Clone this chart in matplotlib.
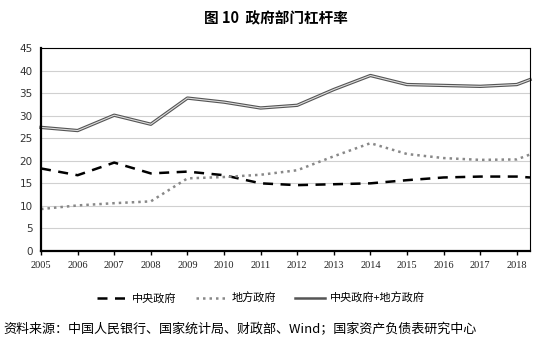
import matplotlib
matplotlib.use("Agg")
import matplotlib.pyplot as plt
from matplotlib.lines import Line2D

plt.rcParams['font.family'] = ['Noto Sans CJK SC', 'DejaVu Sans']

title = "图 10  政府部门杠杆率"
source = "资料来源：中国人民银行、国家统计局、财政部、Wind；国家资产负债表研究中心"
tick_years = [2005, 2006, 2007, 2008, 2009, 2010, 2011, 2012, 2013, 2014, 2015, 2016, 2017, 2018]
# time points of the series (last one is the latest observation after 2018)
x_time = [2005, 2006, 2007, 2008, 2009, 2010, 2011, 2012, 2013, 2014, 2015, 2016, 2017, 2018, 2018.36]
central = [18.3, 16.8, 19.6, 17.2, 17.6, 16.8, 15.0, 14.6, 14.8, 15.0, 15.7, 16.3, 16.5, 16.5, 16.3]
local = [9.3, 10.1, 10.6, 11.0, 16.1, 16.4, 16.9, 17.9, 21.0, 23.9, 21.5, 20.6, 20.2, 20.3, 21.4]
total = [27.4, 26.7, 30.1, 28.1, 33.9, 33.0, 31.7, 32.3, 35.8, 38.9, 36.9, 36.7, 36.5, 36.9, 38.0]
labels = ["中央政府", "地方政府", "中央政府+地方政府"]

fig = plt.figure(figsize=(5.51, 3.51), dpi=100)
ax = fig.add_axes([41/551, 1-251/351, (530-41)/551, (251-48)/351])

ax.set_ylim(0, 45)
ax.set_xlim(2005, 2018.36)
ax.set_yticks(range(0, 46, 5))
ax.set_xticks(tick_years)
ax.set_xticklabels([str(y) for y in tick_years], family='Liberation Serif', fontsize=7.5, color='#222222')
for lab in ax.get_yticklabels():
    lab.set_fontsize(7.5)
    lab.set_color('#333333')
    lab.set_family('DejaVu Sans')
ax.grid(axis='y', color='#d0d0d0', linewidth=0.8)
ax.set_axisbelow(True)
ax.tick_params(axis='y', length=0, pad=6)
ax.tick_params(axis='x', direction='out', length=3, width=1, pad=4)

for s in ['top', 'right']:
    ax.spines[s].set_linewidth(0.8)
for s in ['left', 'bottom']:
    ax.spines[s].set_linewidth(1.6)

l1, = ax.plot(x_time, central, color='black', linestyle=(0, (4, 3)), linewidth=1.8, clip_on=False)
l2, = ax.plot(x_time, local, color='#888888', linestyle=(0, (1, 1.6)), linewidth=1.8, clip_on=False)
l3, = ax.plot(x_time, total, color='#555555', linewidth=2.4, clip_on=False)
l3w, = ax.plot(x_time, total, color='#dddddd', linewidth=0.8, clip_on=False)

h3 = Line2D([], [], color='#555555', linewidth=1.8)
fig.legend([l1, l2, h3], labels, loc='center', bbox_to_anchor=(261/551, 1-298/351),
           ncol=3, frameon=False, fontsize=8, handlelength=2.7, handletextpad=0.5,
           columnspacing=1.7)

fig.text(276/551, 1-18/351, title, ha='center', va='center', fontsize=10.5, fontweight='bold')
fig.text(3/551, 1-330/351, source, ha='left', va='center', fontsize=9.4)

fig.savefig("out.png", dpi=100)
